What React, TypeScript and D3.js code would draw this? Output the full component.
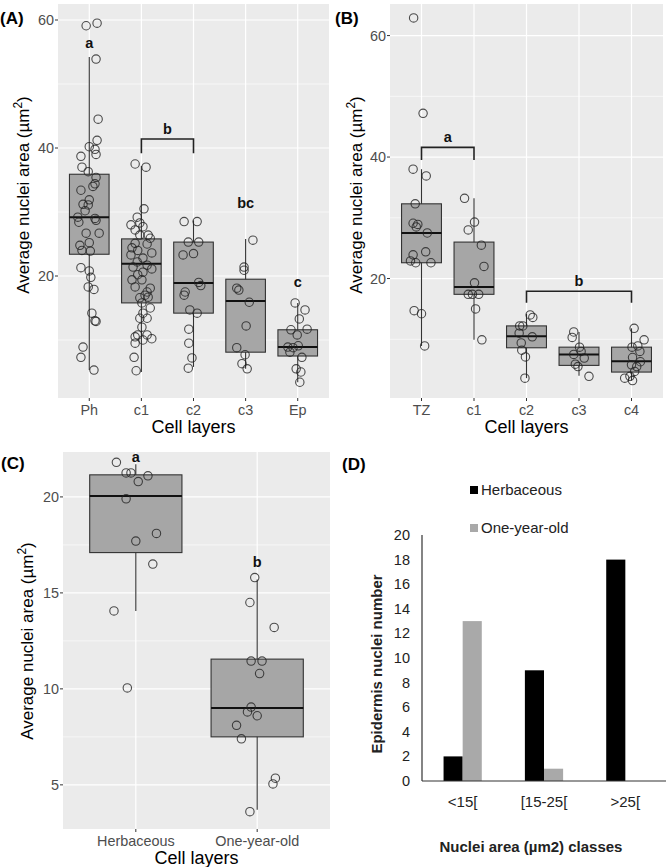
import React from 'react';
import * as d3 from 'd3';

type Pt = [number, number]; // [value, horizontal jitter in category units]
type Box = { q1: number, med: number, q3: number, lo: number, hi: number };
type Letter = { text: string, from: number, to: number, y: number, bracketY?: number, tickY?: number };

const FONT = "'Liberation Sans', Arial, sans-serif";

// ---------- panel A ----------
const layersA = ['Ph', 'c1', 'c2', 'c3', 'Ep'];
const pointsA: Pt[][] = [
  [[59.1,-0.06],[59.5,0.15],[53.9,0.13],[44.5,0.17],[41.2,0.15],[40.2,0],[39.8,0.11],[39,0.13],[38.7,-0.16],[37,-0.14],
   [36.3,-0.02],[35.4,0.13],[34.4,0.11],[34,0.07],[33.4,-0.16],[31.9,0],[31.2,-0.12],[31.1,-0.02],[30.2,-0.08],[29.2,-0.22],
   [29,0.11],[28.4,-0.2],[28.7,0.13],[26.7,-0.06],[26.7,0.19],[24.8,-0.18],[25.2,0],[24,-0.14],[23.9,0.02],[21.3,-0.16],
   [20.8,0],[19.8,0.03],[18.3,-0.02],[17.9,0.09],[14.2,0.05],[13,0.11],[12.9,0.13],[8.9,-0.12],[7.3,-0.16],[5.3,0.09]],
  [[37.5,-0.12],[37,0.09],[30.5,0.05],[29.2,-0.08],[28,-0.2],[28.3,-0.03],[27.7,0.03],[27.2,-0.12],[26.4,0.13],[26.4,-0.03],
   [25.9,0.17],[25.1,-0.12],[25,0.11],[24.4,-0.18],[24,-0.07],[23.6,0.2],[23.3,-0.2],[22.8,0.03],[22.2,-0.08],[21.7,0.11],
   [21.4,-0.16],[21.1,0.2],[20.6,0.03],[20.2,-0.07],[19.4,-0.18],[19.4,0.01],[18.3,-0.12],[18.1,0.17],[17.5,0.11],[17,0.07],
   [16.6,-0.03],[16.7,0.13],[15.8,0.01],[15,0.17],[14.2,0.03],[13.4,-0.03],[13.4,0.11],[12,0.01],[10.8,-0.07],[10.8,0.11],
   [10.5,-0.12],[10.2,0.2],[10,0.03],[9.5,-0.12],[7.3,-0.14],[5.2,-0.1]],
  [[28.5,-0.18],[28.5,0.07],[25.3,-0.1],[25.3,0.1],[23.3,-0.2],[23.5,0],[19,0.1],[18.5,0.14],[17.5,-0.16],[17,-0.18],
   [14.7,-0.07],[14.2,0.07],[11.7,-0.09],[9.5,-0.09],[7.2,-0.03],[5.6,-0.1]],
  [[25.6,0.14],[21.4,-0.03],[20.9,-0.03],[18.1,-0.17],[17.8,-0.13],[15.9,0.07],[12.2,0.01],[8.8,-0.17],[7.7,-0.01],[6.3,-0.07],[5.5,0.03]],
  [[15.8,-0.05],[14.7,0.14],[13.3,0.03],[11.6,-0.13],[11.7,0.18],[10.8,-0.01],[8.9,-0.19],[9.1,0.01],[8.8,-0.09],[7.3,0.08],
   [8.1,-0.15],[5.5,-0.03],[5,0.06],[3.4,0.04]],
];
const boxesA: Box[] = [
  { q1: 23.4, med: 29.2, q3: 35.9, lo: 5.3, hi: 54.2 },
  { q1: 15.8, med: 21.9, q3: 25.8, lo: 5.0, hi: 37.2 },
  { q1: 14.2, med: 18.9, q3: 25.3, lo: 5.8, hi: 28.7 },
  { q1: 8.1, med: 16.1, q3: 19.5, lo: 5.5, hi: 25.8 },
  { q1: 7.5, med: 8.9, q3: 11.6, lo: 3.4, hi: 15.8 },
];
const lettersA: Letter[] = [
  { text: 'a', from: 1, to: 1, y: 56.4 },
  { text: 'b', from: 2, to: 3, y: 43, bracketY: 41.4, tickY: 39.2 },
  { text: 'bc', from: 4, to: 4, y: 31.4 },
  { text: 'c', from: 5, to: 5, y: 19.1 },
];

// ---------- panel B ----------
const layersB = ['TZ', 'c1', 'c2', 'c3', 'c4'];
const pointsB: Pt[][] = [
  [[62.9,-0.15],[47.2,0.03],[38,-0.16],[36.9,0.09],[32.3,-0.12],[29.1,-0.16],[28.9,-0.07],[28.5,-0.1],[27.5,0.11],[23.9,-0.16],
   [24.4,0.08],[22.9,-0.21],[22.6,-0.11],[22.6,0.18],[14.7,-0.14],[14.2,0],[8.9,0.06]],
  [[33.2,-0.18],[28,-0.11],[29.3,0.01],[25.5,0.14],[22,0.19],[19.3,0.01],[17.4,-0.11],[17.4,-0.03],[17.4,0.09],[15,0.03],[9.9,0.15]],
  [[14,0.07],[13.6,0.12],[12.2,-0.13],[12.2,-0.07],[11,-0.14],[10.4,0.11],[9.4,-0.1],[8.2,-0.09],[7.1,-0.02],[3.6,-0.03]],
  [[11.2,-0.1],[10.3,-0.13],[8.7,0.01],[8,0.04],[7.5,-0.1],[6.9,0.1],[5.9,-0.07],[5.5,-0.02],[3.9,0.19]],
  [[11.8,0.05],[9.9,0.24],[8.7,0.01],[8.9,0.12],[8,0.16],[7,0.02],[6.3,0.17],[5.8,0],[5.5,0.1],[4.7,0.06],[3.9,-0.03],[3.6,-0.13],[3.2,0.02]],
];
const boxesB: Box[] = [
  { q1: 22.6, med: 27.5, q3: 32.3, lo: 8.9, hi: 38 },
  { q1: 17.4, med: 18.6, q3: 26, lo: 9.9, hi: 33.2 },
  { q1: 8.6, med: 10.5, q3: 12.2, lo: 3.6, hi: 14.2 },
  { q1: 5.7, med: 7.5, q3: 8.7, lo: 4, hi: 11.2 },
  { q1: 4.6, med: 6.4, q3: 8.7, lo: 3.2, hi: 11.8 },
];
const lettersB: Letter[] = [
  { text: 'a', from: 1, to: 2, y: 43.3, bracketY: 41.6, tickY: 39.5 },
  { text: 'b', from: 3, to: 5, y: 19.6, bracketY: 17.9, tickY: 16 },
];

// ---------- panel C ----------
const layersC = ['Herbaceous', 'One-year-old'];
const pointsC: Pt[][] = [
  [[21.8,-0.16],[21.25,-0.08],[21.25,-0.04],[21.1,0.1],[20.8,0.02],[19.9,-0.08],[18.1,0.17],[17.7,0],[16.5,0.14],[14.06,-0.18],[10.05,-0.07]],
  [[15.8,-0.02],[14.5,-0.06],[13.2,0.14],[11.45,-0.05],[11.45,0.04],[10.8,0.02],[9.05,-0.05],[8.8,-0.08],[8.6,0],[8.1,-0.17],
   [7.4,-0.13],[5.35,0.15],[5.05,0.13],[3.6,-0.06]],
];
const boxesC: Box[] = [
  { q1: 17.1, med: 20.05, q3: 21.15, lo: 14.06, hi: 21.7 },
  { q1: 7.5, med: 9.0, q3: 11.55, lo: 3.7, hi: 15.7 },
];
const lettersC: Letter[] = [
  { text: 'a', from: 1, to: 1, y: 22.1 },
  { text: 'b', from: 2, to: 2, y: 16.6 },
];

// ---------- panel D ----------
const classesD = ['<15[', '[15-25[', '>25['];
const seriesD = ['Herbaceous', 'One-year-old'];
const herbaceousD = [2, 9, 18];
const oneYearD = [13, 1, 0];
const ticksD = [0, 2, 4, 6, 8, 10, 12, 14, 16, 18, 20];
const coloursD = ['#000000', '#a9a9a9'];

type BoxProps = {
  cats: string[], points: Pt[][], boxes: Box[], letters: Letter[],
  yDomain: [number, number], majors: number[], minors: number[],
  left: number, right: number, top: number, bottom: number,
  label: string, labelX: number, labelY: number, titleX: number, titleY: number,
};

const BoxPanel: React.FC<BoxProps> = ({cats, points, boxes, letters, yDomain, majors, minors, left, right, top, bottom, label, labelX, labelY, titleX, titleY}) => {
  const n = cats.length;
  const x = d3.scaleLinear().domain([0.4, n + 0.6]).range([left, right]);
  const y = d3.scaleLinear().domain(yDomain).range([bottom, top]);
  const half = (x(1.38) - x(1));
  return (
    <g fontFamily={FONT}>
      <text x={labelX} y={labelY} fontWeight="bold" fontSize={17}>{label}</text>
      <rect x={left} y={top} width={right - left} height={bottom - top} fill="#ebebeb"/>
      {minors.map(v => <line key={'m' + v} x1={left} x2={right} y1={y(v)} y2={y(v)} stroke="#fff" strokeWidth={0.6}/>)}
      {majors.map(v => <line key={'M' + v} x1={left} x2={right} y1={y(v)} y2={y(v)} stroke="#fff" strokeWidth={1.2}/>)}
      {cats.map((c, i) => <line key={'v' + c} x1={x(i + 1)} x2={x(i + 1)} y1={top} y2={bottom} stroke="#fff" strokeWidth={1.2}/>)}
      {boxes.map((b, i) => {
        const cx = x(i + 1);
        return (
          <g key={'b' + i}>
            <line x1={cx} x2={cx} y1={y(b.hi)} y2={y(b.lo)} stroke="#333" strokeWidth={1.1}/>
            <rect x={cx - half} y={y(b.q3)} width={half * 2} height={y(b.q1) - y(b.q3)} fill="#a6a6a6" stroke="#333" strokeWidth={1.1}/>
            <line x1={cx - half} x2={cx + half} y1={y(b.med)} y2={y(b.med)} stroke="#111" strokeWidth={2}/>
          </g>
        );
      })}
      {points.map((grp, i) => grp.map(([v, j], k) => (
        <circle key={'p' + i + '-' + k} cx={x(i + 1 + j)} cy={y(v)} r={4.2} fill="none" stroke="#222" strokeOpacity={0.8} strokeWidth={1.1}/>
      )))}
      {letters.map(l => {
        const mx = (x(l.from) + x(l.to)) / 2;
        return (
          <g key={l.text}>
            <text x={mx} y={y(l.y) + 5} textAnchor="middle" fontWeight="bold" fontSize={14.5} fill="#111">{l.text}</text>
            {l.bracketY !== undefined &&
              <path d={`M${x(l.from)},${y(l.tickY!)}V${y(l.bracketY)}H${x(l.to)}V${y(l.tickY!)}`} fill="none" stroke="#222" strokeWidth={1.6}/>}
          </g>
        );
      })}
      {majors.map(v => (
        <g key={'t' + v}>
          <line x1={left - 3} x2={left} y1={y(v)} y2={y(v)} stroke="#333"/>
          <text x={left - 4} y={y(v) + 5} textAnchor="end" fontSize={14.4} fill="#4d4d4d">{v}</text>
        </g>
      ))}
      {cats.map((c, i) => (
        <g key={'x' + c}>
          <line x1={x(i + 1)} x2={x(i + 1)} y1={bottom} y2={bottom + 3} stroke="#333"/>
          <text x={x(i + 1)} y={bottom + 17} textAnchor="middle" fontSize={14.4} fill="#4d4d4d">{c}</text>
        </g>
      ))}
      <text x={(left + right) / 2} y={bottom + 35} textAnchor="middle" fontSize={18}>Cell layers</text>
      <text transform={`translate(${titleX},${titleY}) rotate(-90)`} textAnchor="middle" fontSize={17}>
        Average nuclei area (µm<tspan dy={-7} fontSize={12}>2</tspan><tspan dy={7}>)</tspan>
      </text>
    </g>
  );
};

const BarPanel: React.FC = () => {
  const left = 422, right = 666, top = 535, bottom = 781;
  const y = d3.scaleLinear().domain([0, 20]).range([bottom, top]);
  const x0 = d3.scaleBand().domain(classesD).range([left, right]).padding(0);
  const step = x0.step();
  const x1 = d3.scaleBand().domain(seriesD).range([step * 0.265, step * 0.735]);
  const values = [herbaceousD, oneYearD];
  return (
    <g fontFamily={FONT}>
      <text x={342} y={470} fontWeight="bold" fontSize={17}>(D)</text>
      {seriesD.map((s, i) => (
        <g key={s}>
          <rect x={470} y={486 + i * 38} width={8} height={8} fill={coloursD[i]}/>
          <text x={481} y={495 + i * 38} fontSize={15} fill="#222">{s}</text>
        </g>
      ))}
      {classesD.map((c, ci) => seriesD.map((s, si) => values[si][ci] > 0 && (
        <rect key={c + s} x={x0(c)! + x1(s)!} y={y(values[si][ci])} width={x1.bandwidth()} height={y(0) - y(values[si][ci])} fill={coloursD[si]}/>
      )))}
      <line x1={left} x2={left} y1={top} y2={bottom} stroke="#333" strokeWidth={1.2}/>
      <line x1={left} x2={right} y1={bottom} y2={bottom} stroke="#333" strokeWidth={1.2}/>
      {ticksD.map(t => (
        <text key={t} x={410} y={y(t) + 5} textAnchor="end" fontSize={14.5} fill="#222">{t}</text>
      ))}
      {classesD.map(c => (
        <text key={c} x={x0(c)! + step / 2} y={807} textAnchor="middle" fontSize={15} fill="#222">{c}</text>
      ))}
      <text x={531} y={852} textAnchor="middle" fontSize={15} fontWeight="bold" fill="#222">Nuclei area (µm2) classes</text>
      <text transform={`translate(382,${(top + bottom) / 2 + 6}) rotate(-90)`} textAnchor="middle" fontSize={15} fontWeight="bold" fill="#222">Epidermis nuclei number</text>
    </g>
  );
};

export default function App() {
  return (
    <svg width={666} height={867} style={{position: 'absolute', left: 0, top: 0, background: '#fff'}}>
      <BoxPanel cats={layersA} points={pointsA} boxes={boxesA} letters={lettersA}
        yDomain={[0.94, 62.5]} majors={[20, 40, 60]} minors={[10, 30, 50]}
        left={58} right={329} top={4} bottom={398} label="(A)" labelX={0} labelY={24} titleX={29} titleY={195}/>
      <BoxPanel cats={layersB} points={pointsB} boxes={boxesB} letters={lettersB}
        yDomain={[0.33, 65.2]} majors={[20, 40, 60]} minors={[10, 30, 50]}
        left={390} right={663} top={4} bottom={398} label="(B)" labelX={335} labelY={24} titleX={362} titleY={195}/>
      <BoxPanel cats={layersC} points={pointsC} boxes={boxesC} letters={lettersC}
        yDomain={[2.7, 22.34]} majors={[5, 10, 15, 20]} minors={[7.5, 12.5, 17.5]}
        left={63} right={330} top={452} bottom={829} label="(C)" labelX={1} labelY={469} titleX={33} titleY={641}/>
      <BarPanel/>
    </svg>
  );
}
